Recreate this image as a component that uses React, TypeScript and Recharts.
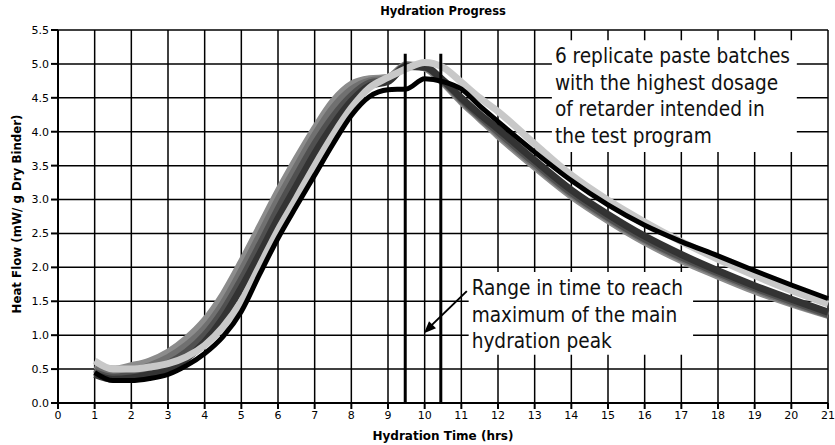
import React from 'react'
import {
  LineChart, Line, XAxis, YAxis, CartesianGrid, ReferenceLine, ReferenceArea, ReferenceDot, Label,
} from 'recharts'

// hydration time (hrs)
const times = [1, 1.5, 2, 2.5, 3, 3.5, 4, 4.5, 5, 5.5, 6, 6.5, 7, 7.5, 8, 8.5, 9, 9.5, 10, 10.5, 11, 11.5, 12, 13, 14, 15, 16, 17, 18, 19, 20, 21]

// heat flow (mW/g) for the 6 replicate batches
const batchGrey = [0.55, 0.5, 0.55, 0.62, 0.75, 0.95, 1.22, 1.6, 2.08, 2.6, 3.12, 3.6, 4.05, 4.45, 4.7, 4.78, 4.8, 4.99, 4.94, 4.72, 4.44, 4.19, 3.94, 3.48, 3.05, 2.69, 2.37, 2.1, 1.87, 1.65, 1.46, 1.29]
const batchMid = [0.5, 0.42, 0.47, 0.55, 0.67, 0.85, 1.1, 1.47, 1.95, 2.47, 3.0, 3.48, 3.95, 4.35, 4.62, 4.75, 4.78, 4.98, 4.95, 4.74, 4.46, 4.21, 3.97, 3.51, 3.08, 2.72, 2.4, 2.13, 1.9, 1.68, 1.48, 1.3]
const batchDim = [0.45, 0.38, 0.42, 0.48, 0.58, 0.75, 1.0, 1.36, 1.82, 2.33, 2.86, 3.35, 3.82, 4.22, 4.53, 4.72, 4.76, 4.97, 4.96, 4.75, 4.48, 4.23, 4.0, 3.54, 3.1, 2.74, 2.42, 2.15, 1.92, 1.7, 1.5, 1.31]
const batchDark = [0.42, 0.35, 0.37, 0.42, 0.5, 0.65, 0.9, 1.25, 1.7, 2.2, 2.72, 3.2, 3.68, 4.1, 4.45, 4.68, 4.74, 4.96, 4.95, 4.76, 4.5, 4.26, 4.04, 3.58, 3.14, 2.78, 2.46, 2.19, 1.95, 1.73, 1.53, 1.34]
const batchLight = [0.62, 0.5, 0.5, 0.53, 0.58, 0.68, 0.85, 1.12, 1.5, 2.02, 2.55, 3.02, 3.5, 3.95, 4.35, 4.65, 4.8, 4.93, 5.02, 4.95, 4.73, 4.5, 4.3, 3.82, 3.36, 2.99, 2.67, 2.38, 2.12, 1.88, 1.66, 1.46]
const batchBlack = [0.45, 0.33, 0.33, 0.36, 0.42, 0.55, 0.73, 0.98, 1.35, 1.9, 2.43, 2.9, 3.36, 3.82, 4.24, 4.52, 4.62, 4.63, 4.78, 4.74, 4.63, 4.38, 4.15, 3.7, 3.28, 2.92, 2.62, 2.38, 2.17, 1.95, 1.74, 1.54]

const xTicks = [0, 1, 2, 3, 4, 5, 6, 7, 8, 9, 10, 11, 12, 13, 14, 15, 16, 17, 18, 19, 20, 21]
const yTicks = [0, 0.5, 1, 1.5, 2, 2.5, 3, 3.5, 4, 4.5, 5, 5.5]

// range of time to reach the main peak
const peakRange = [9.47, 10.44]
const peakLineTop = 5.15

const note1 = ['6 replicate paste batches', 'with the highest dosage', 'of retarder intended in', 'the test program']
const note2 = ['Range in time to reach', 'maximum of the main', 'hydration peak']

const data = times.map((t, i) => ({
  t,
  grey: batchGrey[i],
  mid: batchMid[i],
  dim: batchDim[i],
  dark: batchDark[i],
  light: batchLight[i],
  black: batchBlack[i],
}))

const series = [
  { key: 'grey', color: '#8c8c8c', width: 7 },
  { key: 'mid', color: '#707070', width: 7 },
  { key: 'dim', color: '#505050', width: 7 },
  { key: 'dark', color: '#333333', width: 7 },
  { key: 'light', color: '#c8c8c8', width: 7 },
  { key: 'black', color: '#000000', width: 5 },
]

const noteFont = '"DejaVu Sans Condensed", "DejaVu Sans", sans-serif'

const NoteText = ({ viewBox, lines }: any) => {
  const { x, y } = viewBox
  return (
    <text x={x + 3} y={y} fontSize={20.6} fontFamily={noteFont} fill="#111">
      {lines.map((l: string, i: number) => (
        <tspan key={i} x={x + 3} y={y + 23 + i * 26.5}>{l}</tspan>
      ))}
    </text>
  )
}

const ArrowHead = ({ cx, cy }: any) => {
  const ang = Math.atan2(42, -43)
  const ux = Math.cos(ang), uy = Math.sin(ang)
  const bx = cx - 12 * ux, by = cy - 12 * uy
  const nx = -uy, ny = ux
  const pts = `${cx},${cy} ${bx + 5 * nx},${by + 5 * ny} ${bx - 5 * nx},${by - 5 * ny}`
  return <polygon points={pts} fill="#000" />
}

const tickStyle = { fontSize: 11, fill: '#000', fontFamily: '"DejaVu Sans", sans-serif' }

export default function App() {
  return (
    <div style={{ position: 'absolute', left: 0, top: 0, width: 835, height: 445, background: '#fff', fontFamily: '"DejaVu Sans", sans-serif' }}>
      <div style={{ position: 'absolute', left: 58, top: 4, width: 770, textAlign: 'center', fontSize: 11.5, fontWeight: 'bold', lineHeight: '14px', color: '#000' }}>
        Hydration Progress
      </div>
      <LineChart width={835} height={445} data={data} margin={{ top: 30, right: 7, left: 0, bottom: 0 }}>
        <CartesianGrid stroke="#000" strokeWidth={1.5} />
        <XAxis
          type="number"
          dataKey="t"
          domain={[0, 21]}
          ticks={xTicks}
          interval={0}
          height={42}
          tick={tickStyle}
          tickSize={6}
          tickMargin={2}
          stroke="#000"
          strokeWidth={2}
        >
          <Label value="Hydration Time (hrs)" position="insideBottom" offset={5} style={{ fontSize: 12, fontWeight: 'bold', fill: '#000' }} />
        </XAxis>
        <YAxis
          type="number"
          domain={[0, 5.5]}
          ticks={yTicks}
          interval={0}
          width={58}
          tick={tickStyle}
          tickSize={7}
          tickMargin={2}
          tickFormatter={(v: number) => v.toFixed(1)}
          stroke="#000"
          strokeWidth={2}
        >
          <Label
            content={() => (
              <text x={17} y={214} transform="rotate(-90 17 214)" textAnchor="middle" dominantBaseline="central" fontSize={11.8} fontWeight="bold" fill="#000">
                Heat Flow (mW/ g Dry Binder)
              </text>
            )}
          />
        </YAxis>
        <ReferenceArea x1={13.47} x2={20.15} y1={3.7} y2={5.35} fill="#fff" fillOpacity={1} stroke="none"
          label={(p: any) => <NoteText viewBox={p.viewBox} lines={note1} />} />
        <ReferenceArea x1={11.2} x2={17.32} y1={0.71} y2={1.93} fill="#fff" fillOpacity={1} stroke="none"
          label={(p: any) => <NoteText viewBox={p.viewBox} lines={note2} />} />
        {series.map((s) => (
          <Line key={s.key} type="monotone" dataKey={s.key} stroke={s.color} strokeWidth={s.width} dot={false} isAnimationActive={false} />
        ))}
        {peakRange.map((x) => (
          <ReferenceLine key={x} segment={[{ x, y: 0 }, { x, y: peakLineTop }]} stroke="#000" strokeWidth={3} />
        ))}
        <ReferenceLine segment={[{ x: 11.15, y: 1.65 }, { x: 10.1, y: 1.1 }]} stroke="#000" strokeWidth={2} />
        <ReferenceDot x={9.98} y={1.03} r={0} shape={(p: any) => <ArrowHead cx={p.cx} cy={p.cy} />} />
      </LineChart>
    </div>
  )
}
